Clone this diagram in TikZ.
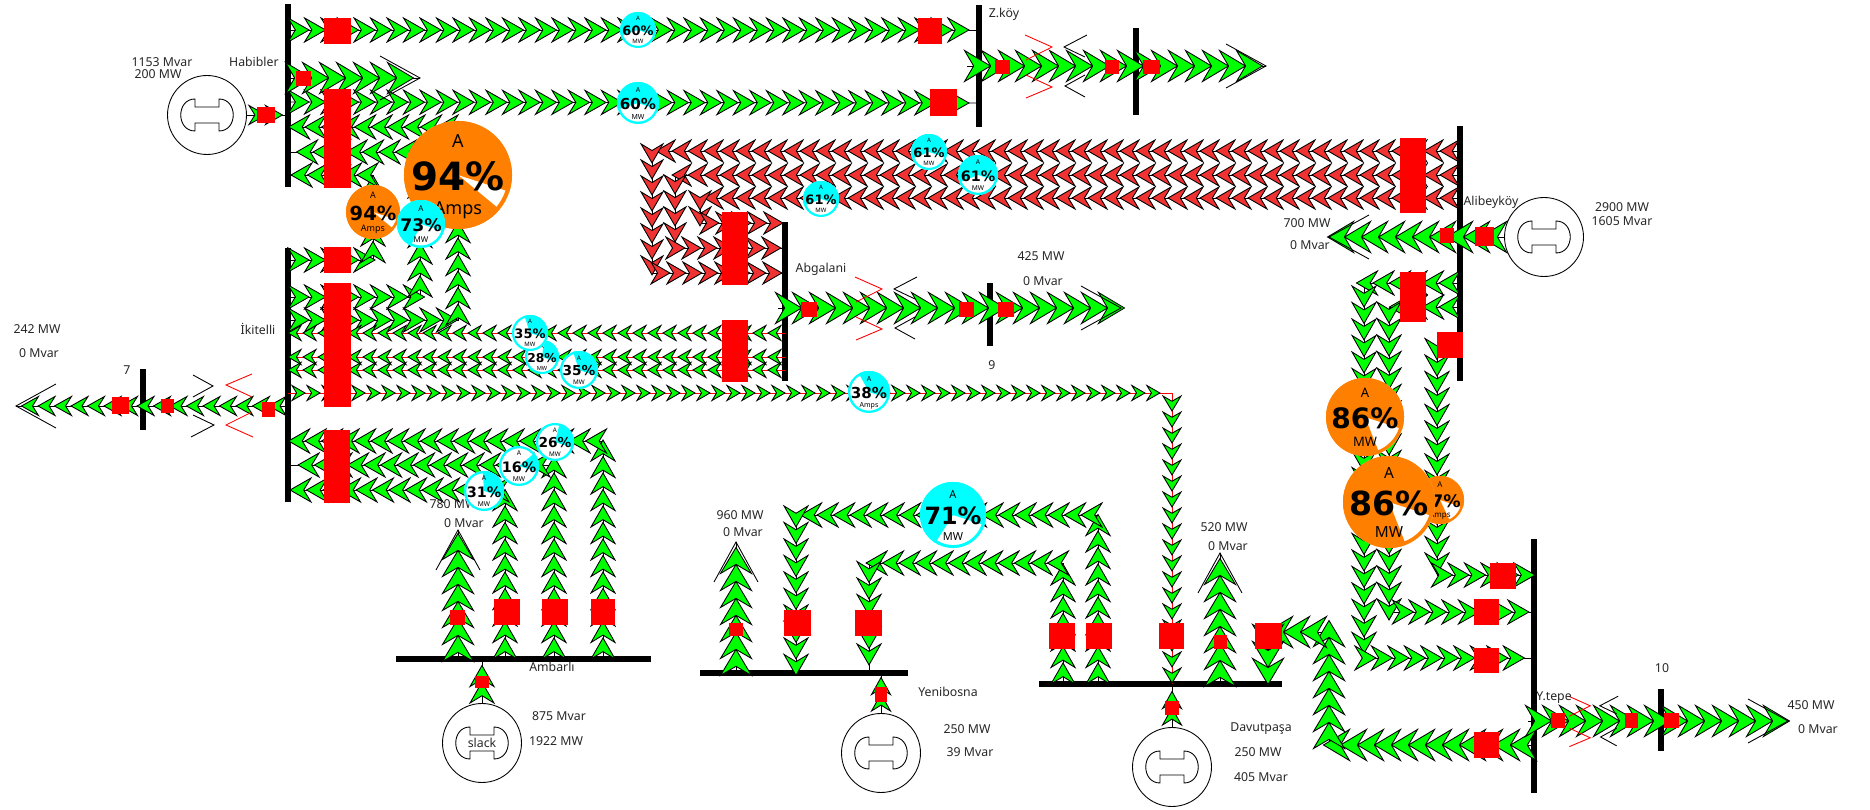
\documentclass[tikz,border=0pt]{standalone}
\usepackage{fontspec}
\setmainfont{Noto Sans}
\newfontfamily\gaugefont{DejaVu Sans}
\usepackage{xcolor}
\usepackage{tikz}
\usetikzlibrary{arrows.meta,decorations.markings}
\definecolor{flowgreen}{RGB}{0,255,0}
\definecolor{flowred}{RGB}{240,50,50}
\definecolor{gaugecyan}{RGB}{0,255,255}
\definecolor{gaugeorange}{RGB}{255,128,0}
\newcommand{\chevron}[3]{\draw[black,fill=#1,line width=.5pt] (#2,0) -- (-#2,#3) -- ({-.3*#2},0) -- (-#2,-#3) -- cycle;}
\newcommand{\gauge}[6]{%
\pgfmathsetmacro{\gaugefs}{.41*#3}\pgfmathsetmacro{\gaugels}{.19*#3}\pgfmathsetmacro{\gaugeang}{3.6*#4-18}%
\pgfmathsetmacro{\gaugelw}{.7+.03*#3}\pgfmathsetmacro{\gaugerr}{.974*#3-.6}%
\coordinate (#1) at (#2);
\begin{scope}[shift={(#1)}]
\fill[white](0,0)circle[radius=#3];
\fill[#5](0,0)--plot[domain=-18:\gaugeang,samples=50]({#3*cos(\x)},{-#3*sin(\x)})--cycle;
\draw[#5,line width=\gaugelw pt](0,0)circle[radius=\gaugerr];
\node[inner sep=0,font=\gaugefont\bfseries\fontsize{\gaugefs}{\gaugefs}\selectfont](#1pct)at(0,1){#4\%};
\node[inner sep=0,font=\fontsize{\gaugels}{\gaugels}\selectfont](#1top)at(0,{-.62*#3}){A};
\node[inner sep=0,font=\fontsize{\gaugels}{\gaugels}\selectfont](#1bot)at(0,{.65*#3}){#6};
\end{scope}}
\tikzset{
flow/.style n args={4}{line width=.5pt,postaction={decorate,decoration={markings,mark=between positions 6pt and -3pt step #4 with {\chevron{#1}{#2}{#3}}}}},
flowb/.style={flow={flowgreen}{13}{15.5}{.34cm}},
flowg/.style={flow={flowgreen}{10.5}{12}{.33cm}},
flowm/.style={flow={flowgreen}{8.5}{9.5}{.33cm}},
flows/.style={draw=red,flow={flowgreen}{6.5}{7.5}{.3cm}},
flowv/.style={draw=red,flow={flowgreen}{7.5}{9}{.32cm}},
flowr/.style={flow={flowred}{9.5}{11}{.32cm}},
busv/.style={fill=black,inner sep=0,minimum width=.11cm,minimum height=#1*0.02cm},
bush/.style={fill=black,inner sep=0,minimum height=.11cm,minimum width=#1*0.02cm},
brk/.style 2 args={fill=red,inner sep=0,minimum width=#1*0.02cm,minimum height=#2*0.02cm},
gen/.style={draw,circle,fill=white,inner sep=0,minimum size=1.58cm,line width=.5pt},
txt/.style={inner sep=0,font=\fontsize{7}{8}\selectfont,text=black!85},
genmark/.pic={\draw[line width=.5pt](-12,-16)--(-12,-8)--(12,-8)--(12,-16)..controls(31,-16)and(31,16)..(12,16)--(12,8)--(-12,8)--(-12,16)..controls(-31,16)and(-31,-16)..(-12,-16)--cycle;},
loadhead/.pic={\draw[line width=.5pt](-40,-22)--(0,0)--(-40,22);},
xfmr/.pic={
\draw[red,line width=.5pt](-33,-31)--(-6,-19)--(-32,-6);
\draw[red,line width=.5pt](-32,9)--(-6,21)--(-32,32);
\draw[line width=.5pt](29,-31)--(6,-19)--(27,-9);
\draw[line width=.5pt](27,9)--(7,20)--(27,31);},
}
\begin{document}
\begin{tikzpicture}[x=0.02cm,y=-0.02cm]
\useasboundingbox(0,0)rectangle(1870,810);
% buses
\node[busv=183](habibler)at(288,96){};
\node[busv=122](zkoy)at(979,66){};
\node[busv=87](bus12)at(1136,72){};
\node[busv=254](ikitelli)at(288,375){};
\node[busv=61](bus7)at(143,400){};
\node[busv=159](abgalani)at(785,302){};
\node[busv=63](bus9)at(990,315){};
\node[busv=255](alibeykoy)at(1460,254){};
\node[busv=254](ytepe)at(1534,666){};
\node[busv=62](bus10)at(1661,720){};
\node[bush=255](ambarli)at(523,659){};
\node[bush=208](yenibosna)at(804,673){};
\node[bush=243](davutpasa)at(1160,684){};
% generators
\node[gen](ghab)at(207,115){};
\node[gen](gali)at(1544,237){};
\node[gen](gsla)at(482,743){};
\node[gen](gyen)at(881,753){};
\node[gen](gdav)at(1172,767){};
\pic at(ghab){genmark};
\pic at(gali){genmark};
\pic at(gsla){genmark};
\pic at(gyen){genmark};
\pic at(gdav){genmark};
% line ends and corners
\coordinate(ha1)at(288,30);\coordinate(zk1)at(979,30);
\coordinate(ha2)at(288,78);\coordinate(st2)at(420,78);
\coordinate(ha3)at(288,102);\coordinate(zk3)at(979,103);
\coordinate(ha4)at(288,127);\coordinate(c4a)at(458,127);\coordinate(c4b)at(458,320);\coordinate(ik4)at(288,320);
\coordinate(ha5)at(288,152);\coordinate(c5a)at(420,152);\coordinate(c5b)at(420,297);\coordinate(ik5)at(288,297);
\coordinate(ha6)at(288,175);\coordinate(c6a)at(373,175);\coordinate(c6b)at(373,260);\coordinate(ik6)at(288,260);
\coordinate(ik1)at(288,333);\coordinate(ab1)at(785,333);
\coordinate(ik2)at(288,357);\coordinate(ab2)at(785,357);
\coordinate(ik3)at(288,370);\coordinate(ab3)at(785,370);
\coordinate(ik8)at(288,393);\coordinate(c8)at(1172,393);\coordinate(da1)at(1172,684);
\coordinate(ik9)at(288,441);\coordinate(c9)at(603,441);\coordinate(am1)at(603,659);
\coordinate(ik10)at(288,465);\coordinate(c10)at(554,465);\coordinate(am2)at(554,659);
\coordinate(ik11)at(288,490);\coordinate(c11)at(505,490);\coordinate(am3)at(505,659);
\coordinate(am4)at(458,659);\coordinate(st4)at(458,530);
\coordinate(da5)at(1098,684);\coordinate(c5c)at(1098,515);\coordinate(c5d)at(796,515);\coordinate(ye5)at(796,673);
\coordinate(da6)at(1063,684);\coordinate(c6c)at(1063,563);\coordinate(c6d)at(869,563);\coordinate(ye6)at(869,673);
\coordinate(ye7)at(736,673);\coordinate(st7)at(736,542);
\coordinate(da7)at(1220,684);\coordinate(st8)at(1220,553);
\coordinate(al1)at(1460,283);\coordinate(c1a)at(1364,283);\coordinate(c1b)at(1364,658);\coordinate(yt1)at(1534,658);
\coordinate(al2)at(1460,307);\coordinate(c2a)at(1389,307);\coordinate(c2b)at(1389,612);\coordinate(yt2)at(1534,612);
\coordinate(al3)at(1460,345);\coordinate(c3a)at(1437,345);\coordinate(c3b)at(1437,575);\coordinate(yt3)at(1534,575);
\coordinate(yt4)at(1534,745);\coordinate(c7a)at(1329,745);\coordinate(c7b)at(1329,632);\coordinate(c7c)at(1268,632);\coordinate(da8)at(1268,684);
\coordinate(al4)at(1460,151);\coordinate(r1a)at(652,151);\coordinate(r1b)at(652,273);\coordinate(ab4)at(785,273);
\coordinate(al5)at(1460,175);\coordinate(r2a)at(675,175);\coordinate(r2b)at(675,248);\coordinate(ab5)at(785,248);
\coordinate(al6)at(1460,198);\coordinate(r3a)at(700,198);\coordinate(r3b)at(700,223);\coordinate(ab6)at(785,223);
\coordinate(st9)at(967,66);\coordinate(st10)at(1266,66);
\coordinate(st11)at(778,308);\coordinate(st12)at(1121,308);
\coordinate(st13)at(1528,721);\coordinate(st14)at(1788,721);
\coordinate(ik12)at(288,406);\coordinate(st15)at(16,406);
\coordinate(st16)at(1329,237);
% flows
\draw[flowr](al4)--(r1a)--(r1b)--(ab4);
\draw[flowr](al5)--(r2a)--(r2b)--(ab5);
\draw[flowr](al6)--(r3a)--(r3b)--(ab6);
\draw[flowg](ha1)--(zk1);
\draw[flowg](ha3)--(zk3);
\draw[flowb](ha2)--(st2);
\draw[flowg](ik4)--(c4b)--(c4a)--(ha4);
\draw[flowg](ik5)--(c5b)--(c5a)--(ha5);
\draw[flowg](ik6)--(c6b)--(c6a)--(ha6);
\draw[flows](ab1)--(ik1);
\draw[flows](ab2)--(ik2);
\draw[flows](ab3)--(ik3);
\draw[flows](ik8)--(c8);
\draw[flowv](c8)--(da1);
\draw[flowg](am1)--(c9)--(ik9);
\draw[flowg](am2)--(c10)--(ik10);
\draw[flowg](am3)--(c11)--(ik11);
\draw[flowb](am4)--(st4);
\draw[flowg](da5)--(c5c)--(c5d)--(ye5);
\draw[flowg](da6)--(c6c)--(c6d)--(ye6);
\draw[flowb](ye7)--(st7);
\draw[flowb](da7)--(st8);
\draw[flowg](al1)--(c1a)--(c1b)--(yt1);
\draw[flowg](al2)--(c2a)--(c2b)--(yt2);
\draw[flowg](al3)--(c3a)--(c3b)--(yt3);
\draw[flowb](yt4)--(c7a)--(c7b)--(c7c)--(da8);
\draw[flowb](st9)--(st10);
\draw[flowb](st11)--(st12);
\draw[flowb](st13)--(st14);
\draw[flowm](ik12)--(st15);
\draw[flowb](gali.west)--(st16);
\draw[line width=.5pt](ghab.east)--(ghab-|habibler);
\draw[line width=.5pt](gsla.north)--(am4-|gsla);
\draw[line width=.5pt](gyen.north)--(ye7-|gyen);
\draw[line width=.5pt](gdav.north)--(da1);
\draw[flowm](ghab.east)--(ghab-|habibler);
\draw[flowg](gsla.north)--(am4-|gsla);
\draw[flowm](gyen.north)--(ye7-|gyen);
\draw[flowm](gdav.north)--(da1);
% load heads and transformers
\pic at(st2){loadhead};
\pic[rotate=90]at(st4){loadhead};
\pic[rotate=90]at(st7){loadhead};
\pic[rotate=90]at(st8){loadhead};
\pic at(st10){loadhead};
\pic at(st12){loadhead};
\pic at(st14){loadhead};
\pic[rotate=180]at(st15){loadhead};
\pic[rotate=180]at(st16){loadhead};
\pic at(1058,66){xfmr};
\pic at(888,308){xfmr};
\pic[rotate=180]at(220,406){xfmr};
\pic[scale=.8]at(1595,721){xfmr};
% breakers
\node[brk={27}{26}](b1)at(337.5,31){};
\node[brk={24}{26}](b2)at(930,31){};
\node[brk={15}{15}](b3)at(303.5,78.5){};
\node[brk={27}{99}](b4)at(337.5,138.5){};
\node[brk={27}{27}](b5)at(943,103){};
\node[brk={18}{16}](b6)at(266,115){};
\node[brk={27}{26}](b7)at(337.5,260){};
\node[brk={27}{124}](b8)at(337.5,345){};
\node[brk={26}{73}](b9)at(337,466.5){};
\node[brk={17}{17}](b10)at(120.5,406){};
\node[brk={13}{14}](b11)at(167.5,406){};
\node[brk={13}{15}](b12)at(268.5,410){};
\node[brk={26}{62}](b13)at(735,351){};
\node[brk={26}{73}](b14)at(735,248.5){};
\node[brk={26}{75}](b15)at(1413,175.5){};
\node[brk={26}{50}](b16)at(1413,297){};
\node[brk={26}{26}](b17)at(1450,345){};
\node[brk={14}{15}](b18)at(1447,235.5){};
\node[brk={19}{19}](b19)at(1484.5,236.5){};
\node[brk={15}{14}](b20)at(1002.5,67){};
\node[brk={14}{14}](b21)at(1112,67){};
\node[brk={17}{14}](b22)at(1151.5,67){};
\node[brk={16}{15}](b23)at(809,309.5){};
\node[brk={15}{15}](b24)at(966.5,309.5){};
\node[brk={16}{15}](b25)at(1006,309.5){};
\node[brk={15}{15}](b26)at(457.5,617.5){};
\node[brk={26}{26}](b27)at(507,612){};
\node[brk={26}{26}](b28)at(555,612){};
\node[brk={24}{26}](b29)at(603,612){};
\node[brk={14}{12}](b30)at(482,682){};
\node[brk={14}{13}](b31)at(736,629.5){};
\node[brk={27}{26}](b32)at(797.5,623){};
\node[brk={27}{26}](b33)at(868.5,623){};
\node[brk={12}{15}](b34)at(881,694.5){};
\node[brk={26}{26}](b35)at(1062,636){};
\node[brk={26}{26}](b36)at(1099,636){};
\node[brk={25}{26}](b37)at(1171.5,636){};
\node[brk={13}{14}](b38)at(1220.5,642){};
\node[brk={27}{26}](b39)at(1268.5,636){};
\node[brk={14}{14}](b40)at(1172,708){};
\node[brk={26}{26}](b41)at(1503,576){};
\node[brk={25}{26}](b42)at(1486.5,612){};
\node[brk={25}{25}](b43)at(1486.5,660.5){};
\node[brk={25}{26}](b44)at(1486.5,745){};
\node[brk={14}{15}](b45)at(1558,720.5){};
\node[brk={13}{15}](b46)at(1631.5,720.5){};
\node[brk={15}{15}](b47)at(1671.5,720.5){};
% texts
\node[txt](t1)at(162,62){1153 Mvar};
\node[txt](t2)at(158,74){200 MW};
\node[txt,anchor=east](t3)at(279,62){Habibler};
\node[txt](t4)at(258,329){İkitelli};
\node[txt](t5)at(37,329){242 MW};
\node[txt](t6)at(39,353){0 Mvar};
\node[txt](t7)at(127,370){7};
\node[txt](t8)at(1004,14){Z.köy};
\node[txt](t9)at(821,269){Abgalani};
\node[txt](t10)at(1041,256){425 MW};
\node[txt](t11)at(1043,281){0 Mvar};
\node[txt](t12)at(992,365){9};
\node[txt](t13)at(1491,202){Alibeyköy};
\node[txt](t14)at(1622,207){2900 MW};
\node[txt](t15)at(1622,221){1605 Mvar};
\node[txt](t16)at(1307,223){700 MW};
\node[txt](t17)at(1310,245){0 Mvar};
\node[txt](t18)at(453,504){780 MW};
\node[txt](t19)at(464,523){0 Mvar};
\node[txt](t20)at(552,667){Ambarlı};
\node[txt](t21)at(482,743){slack};
\node[txt](t22)at(559,716){875 Mvar};
\node[txt](t23)at(556,741){1922 MW};
\node[txt](t24)at(740,515){960 MW};
\node[txt](t25)at(743,532){0 Mvar};
\node[txt](t26)at(948,692){Yenibosna};
\node[txt](t27)at(967,729){250 MW};
\node[txt](t28)at(970,752){39 Mvar};
\node[txt](t29)at(1224,527){520 MW};
\node[txt](t30)at(1228,546){0 Mvar};
\node[txt](t31)at(1261,729){Davutpaşa};
\node[txt](t32)at(1258,752){250 MW};
\node[txt](t33)at(1261,777){405 Mvar};
\node[txt](t34)at(1554,698){Y.tepe};
\node[txt](t35)at(1662,668){10};
\node[txt](t36)at(1811,705){450 MW};
\node[txt](t37)at(1818,729){0 Mvar};
% gauges
\gauge{g1}{638,30}{18}{60}{gaugecyan}{MW}
\gauge{g2}{638,103}{21}{60}{gaugecyan}{MW}
\gauge{g3}{929,152}{18}{61}{gaugecyan}{MW}
\gauge{g4}{978,175}{20}{61}{gaugecyan}{MW}
\gauge{g5}{821,199}{18}{61}{gaugecyan}{MW}
\gauge{g6}{458,175}{54}{94}{gaugeorange}{Amps}
\gauge{g7}{373,212}{27}{94}{gaugeorange}{Amps}
\gauge{g8}{421,224}{24}{73}{gaugecyan}{MW}
\gauge{g9}{542,357}{17}{28}{gaugecyan}{MW}
\gauge{g10}{530,333}{18}{35}{gaugecyan}{MW}
\gauge{g11}{579,370}{19}{35}{gaugecyan}{MW}
\gauge{g12}{869,392}{21}{38}{gaugecyan}{Amps}
\gauge{g13}{555,442}{19}{26}{gaugecyan}{MW}
\gauge{g14}{519,466}{20}{16}{gaugecyan}{MW}
\gauge{g15}{484,491}{20}{31}{gaugecyan}{MW}
\gauge{g16}{953,515}{33}{71}{gaugecyan}{MW}
\gauge{g17}{1365,417}{39}{86}{gaugeorange}{MW}
\gauge{g18}{1440,500}{24}{87}{gaugeorange}{Amps}
\gauge{g19}{1389,502}{46}{86}{gaugeorange}{MW}
\end{tikzpicture}
\end{document}
